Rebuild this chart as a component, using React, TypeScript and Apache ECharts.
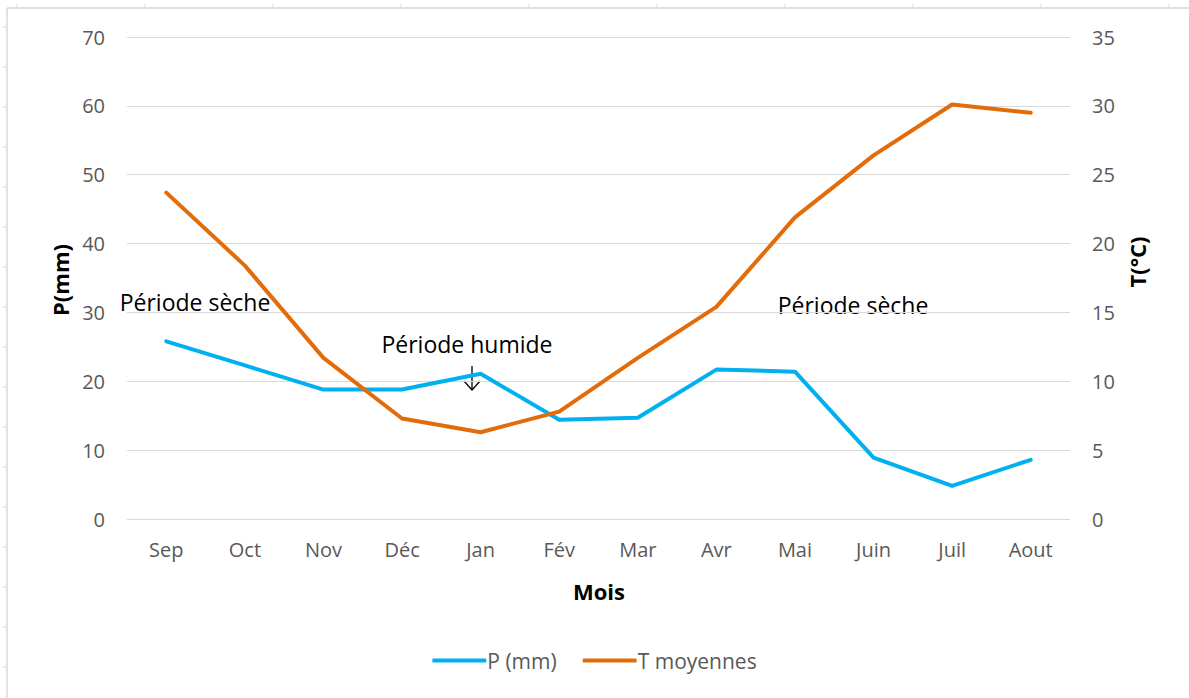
import React, { useEffect, useRef } from "react";
import * as echarts from "echarts";

const months = ["Sep", "Oct", "Nov", "Déc", "Jan", "Fév", "Mar", "Avr", "Mai", "Juin", "Juil", "Aout"];
const precipitation = [25.8, 22.3, 18.8, 18.8, 21.1, 14.4, 14.7, 21.7, 21.4, 8.9, 4.8, 8.6];
const temperature = [23.7, 18.4, 11.7, 7.3, 6.3, 7.8, 11.7, 15.4, 21.9, 26.4, 30.1, 29.5];
const pTicks = { min: 0, max: 70, interval: 10 };
const tTicks = { min: 0, max: 35, interval: 5 };

const FONT = "'Open Sans', 'Noto Sans', sans-serif";
const BLUE = "#00B0F0";
const ORANGE = "#E36C0A";
const LABEL = 20;

export default function App() {
  const ref = useRef<HTMLDivElement>(null);
  useEffect(() => {
    if (!ref.current) return;
    const chart = echarts.init(ref.current, undefined, { renderer: "svg" });
    const frameTicks: any[] = [];
    for (let y = 27; y < 698; y += 40) {
      frameTicks.push({ type: "line", shape: { x1: 3, y1: y, x2: 7, y2: y }, style: { stroke: "#d9d9d9", lineWidth: 1 } });
    }
    for (let x = 17; x < 1189; x += 128) {
      frameTicks.push({ type: "line", shape: { x1: x, y1: 4, x2: x, y2: 8 }, style: { stroke: "#d9d9d9", lineWidth: 1 } });
    }
    chart.setOption({
      animation: false,
      backgroundColor: "#ffffff",
      grid: { left: 127, right: 119, top: 37, bottom: 179, containLabel: false },
      legend: {
        top: 645,
        left: "center",
        itemWidth: 54,
        itemHeight: 4,
        itemGap: 26,
        textStyle: { color: "#595959", fontSize: 21, fontFamily: FONT, padding: [0, 0, 0, -4] },
        data: [
          { name: "P (mm)", icon: "roundRect" },
          { name: "T moyennes", icon: "roundRect" },
        ],
      },
      xAxis: {
        type: "category",
        data: months,
        boundaryGap: true,
        axisLine: { show: false },
        axisTick: { show: false },
        axisLabel: { color: "#595959", fontSize: LABEL, fontFamily: FONT, margin: 20 },
      },
      yAxis: [
        {
          type: "value",
          min: pTicks.min,
          max: pTicks.max,
          interval: pTicks.interval,
          axisLine: { show: false },
          axisTick: { show: false },
          axisLabel: { color: "#595959", fontSize: LABEL, fontFamily: FONT, margin: 22 },
          splitLine: { lineStyle: { color: "#d9d9d9", width: 1 } },
        },
        {
          type: "value",
          min: tTicks.min,
          max: tTicks.max,
          interval: tTicks.interval,
          position: "right",
          axisLine: { show: false },
          axisTick: { show: false },
          axisLabel: { color: "#595959", fontSize: LABEL, fontFamily: FONT, margin: 22 },
          splitLine: { show: false },
        },
      ],
      series: [
        {
          name: "P (mm)",
          type: "line",
          data: precipitation,
          yAxisIndex: 0,
          symbol: "none",
          lineStyle: { color: BLUE, width: 4, cap: "round", join: "round" },
          itemStyle: { color: BLUE },
        },
        {
          name: "T moyennes",
          type: "line",
          data: temperature,
          yAxisIndex: 1,
          symbol: "none",
          lineStyle: { color: ORANGE, width: 4, cap: "round", join: "round" },
          itemStyle: { color: ORANGE },
        },
      ],
      graphic: [
        { type: "line", shape: { x1: 7, y1: 8, x2: 1189, y2: 8 }, style: { stroke: "#d9d9d9", lineWidth: 1.5 } },
        { type: "line", shape: { x1: 7, y1: 8, x2: 7, y2: 698 }, style: { stroke: "#d9d9d9", lineWidth: 1.5 } },
        ...frameTicks,
        {
          type: "text", x: 60, y: 280, rotation: Math.PI / 2,
          style: { text: "P(mm)", fill: "#000", font: `bold 22px ${FONT}`, align: "center", verticalAlign: "middle" },
        },
        {
          type: "text", x: 1137, y: 262, rotation: Math.PI / 2,
          style: { text: "T(°C)", fill: "#000", font: `bold 22px ${FONT}`, align: "center", verticalAlign: "middle" },
        },
        {
          type: "text", x: 599, y: 591,
          style: { text: "Mois", fill: "#000", font: `bold 22px ${FONT}`, align: "center", verticalAlign: "middle" },
        },
        {
          type: "text", x: 195, y: 302,
          style: { text: "Période sèche", fill: "#000", font: `23px ${FONT}`, align: "center", verticalAlign: "middle" },
        },
        {
          type: "text", x: 853, y: 305,
          style: { text: "Période sèche", fill: "#000", font: `23px ${FONT}`, align: "center", verticalAlign: "middle" },
        },
        {
          type: "text", x: 467, y: 344,
          style: { text: "Période humide", fill: "#000", font: `23px ${FONT}`, align: "center", verticalAlign: "middle" },
        },
        { type: "line", shape: { x1: 472, y1: 366, x2: 472, y2: 390 }, style: { stroke: "#000", lineWidth: 1.3 } },
        { type: "polyline", shape: { points: [[464, 381], [472, 390], [480, 381]] }, style: { stroke: "#000", lineWidth: 1.3, fill: null } },
      ],
    });
    return () => chart.dispose();
  }, []);
  return <div ref={ref} style={{ position: "fixed", left: 0, top: 0, width: 1189, height: 698 }} />;
}
